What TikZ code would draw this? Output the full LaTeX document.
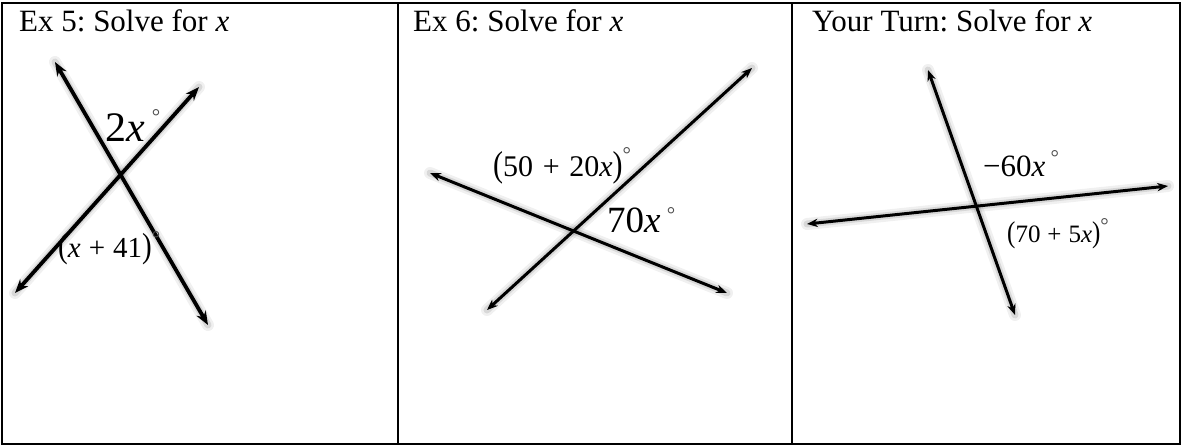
\documentclass[tikz,border=0pt]{standalone}
\usepackage{fontspec}
\setmainfont{Liberation Serif}
\usetikzlibrary{arrows.meta}
\frenchspacing

\newcommand{\dg}[1]{\raisebox{#1}{\color{black!70}\fontsize{21}{21}\selectfont °}}
\newcommand{\lpar}{\scalebox{1}[1.2]{(}}
\newcommand{\rpar}{\scalebox{1}[1.2]{)}}

\tikzset{
    panel/.style={draw=black, line width=2pt},
    title/.style={anchor=base west, inner sep=0pt, font=\fontsize{31}{36}\selectfont},
    angle label/.style={anchor=base west, inner sep=0pt},
    glowline/.style={line width=#1,
        {Stealth[length=0pt 3.6, width=0pt 2.8]}-{Stealth[length=0pt 3.6, width=0pt 2.8]},
        preaction={draw=black, draw opacity=0.06, line width=12pt, arrows=-, line cap=round},
        preaction={draw=black, draw opacity=0.10, line width=7pt, arrows=-, line cap=round}},
}

\begin{document}
\begin{tikzpicture}[x=1pt, y=-1pt]
    % Canvas
    \useasboundingbox (0,0) rectangle (1182,446);

    % Panel frames
    \foreach \xa/\xb in {2/398, 398/792, 792/1180} {
        \draw[panel] (\xa,3) rectangle (\xb,444);
    }

    % Titles
    \node[title] (title5) at (19,32) {Ex 5: Solve for \textit{x}};
    \node[title] (title6) at (413,32) {Ex 6: Solve for \textit{x}};
    \node[title] (titleyt) at (812,32) {Your Turn: Solve for \textit{x}};

    % Ex 5: two crossing lines
    \coordinate (a1) at (55,62);
    \coordinate (a2) at (208,325);
    \coordinate (b1) at (15,293);
    \coordinate (b2) at (199,87);
    \draw[glowline=3.8pt] (a1) -- (a2);
    \draw[glowline=3.8pt] (b1) -- (b2);
    \node[angle label, font=\fontsize{42}{42}\selectfont] (ang2x) at (105,142) {2\textit{x}\,\dg{18pt}};
    \node[angle label, font=\fontsize{29}{29}\selectfont] (angx41) at (58,258) {\lpar\textit{x}\;+\;41\rpar\dg{13pt}};

    % Ex 6: two crossing lines
    \coordinate (c1) at (430,173);
    \coordinate (c2) at (727,293);
    \coordinate (d1) at (487,310);
    \coordinate (d2) at (752,68);
    \draw[glowline=3pt] (c1) -- (c2);
    \draw[glowline=3pt] (d1) -- (d2);
    \node[angle label, font=\fontsize{30}{30}\selectfont] (ang5020x) at (493,177) {\lpar50\hspace{.32em}+\hspace{.32em}20\textit{x}\rpar\dg{15pt}};
    \node[angle label, font=\fontsize{37}{37}\selectfont] (ang70x) at (607,233) {70\textit{x}\,\dg{11pt}};

    % Your Turn: two crossing lines
    \coordinate (e1) at (928,70);
    \coordinate (e2) at (1015,315);
    \coordinate (f1) at (807,224);
    \coordinate (f2) at (1168,186);
    \draw[glowline=3pt] (e1) -- (e2);
    \draw[glowline=3pt] (f1) -- (f2);
    \node[angle label, font=\fontsize{31}{31}\selectfont] (angm60x) at (983,177) {−60\textit{x}\,\dg{12pt}};
    \node[angle label, font=\fontsize{25}{25}\selectfont] (ang705x) at (1007,243) {\lpar70\;+\;5\textit{x}\rpar\dg{10pt}};
\end{tikzpicture}
\end{document}
